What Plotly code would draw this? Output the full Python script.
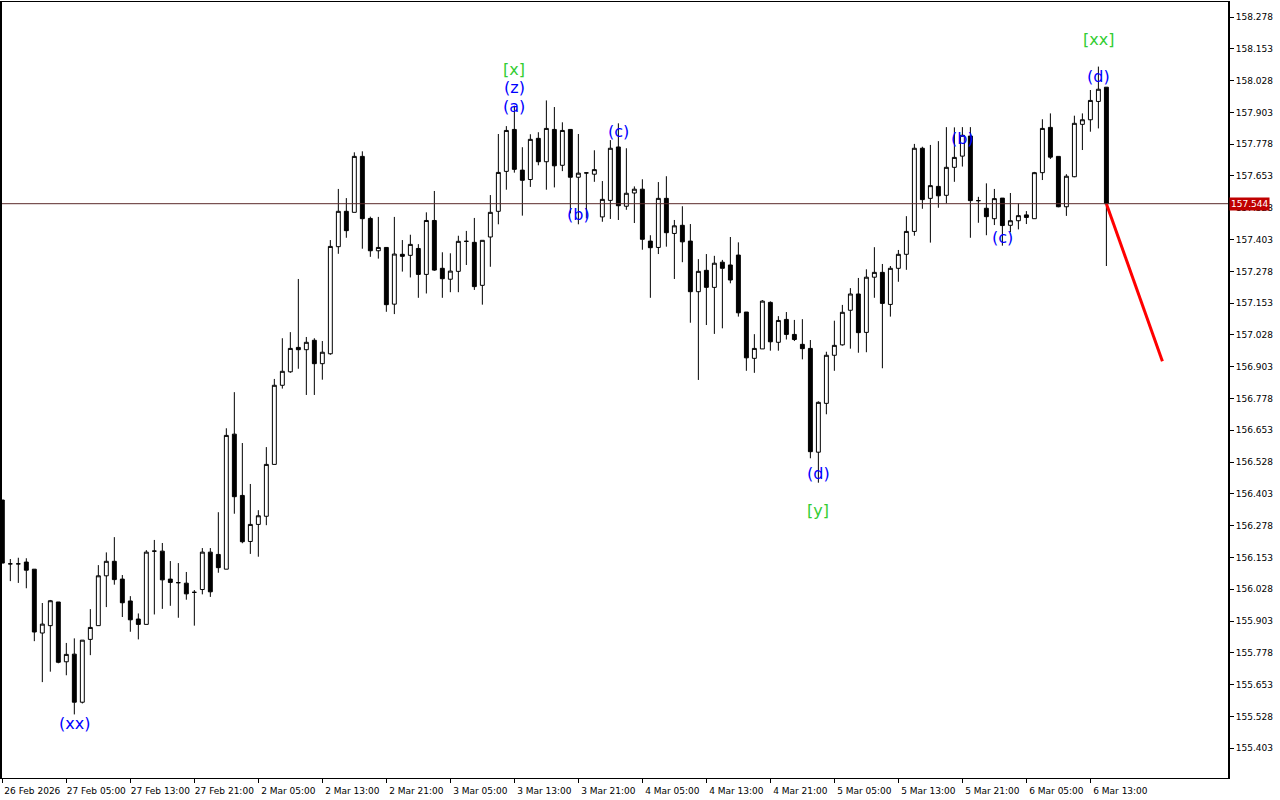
import plotly.graph_objects as go

# hourly bars, index 0 = 26 Feb 2026 21:00
open_ = [156.379, 156.128, 156.128, 156.135, 156.107, 155.856, 155.885, 155.978, 155.743, 155.773,
         155.584, 155.831, 155.885, 156.081, 156.138, 156.068, 155.982, 155.911, 155.890, 156.178,
         156.178, 156.068, 156.054, 156.052, 156.016, 156.027, 156.174, 156.165, 156.107, 156.638,
         156.397, 156.216, 156.283, 156.315, 156.519, 156.830, 156.883, 156.979, 156.970, 157.007,
         156.915, 156.954, 157.375, 157.514, 157.510, 157.730, 157.486, 157.359, 157.372, 157.149,
         157.345, 157.341, 157.368, 157.266, 157.478, 157.290, 157.247, 157.278, 157.396, 157.392,
         157.223, 157.413, 157.514, 157.671, 157.836, 157.676, 157.639, 157.801, 157.709, 157.836,
         157.695, 157.836, 157.648, 157.665, 157.660, 157.492, 157.557, 157.767, 157.534, 157.586,
         157.601, 157.397, 157.372, 157.565, 157.427, 157.459, 157.397, 157.198, 157.282, 157.215,
         157.314, 157.303, 157.342, 157.118, 156.936, 156.973, 157.156, 156.999, 157.089, 157.030,
         156.991, 156.975, 156.567, 156.759, 156.948, 156.989, 157.125, 157.189, 157.038, 157.255,
         157.274, 157.148, 157.290, 157.345, 157.435, 157.762, 157.565, 157.612, 157.577, 157.687,
         157.731, 157.810, 157.556, 157.526, 157.485, 157.566, 157.459, 157.477, 157.500, 157.485,
         157.666, 157.844, 157.730, 157.532, 157.650, 157.856, 157.874, 157.946, 158.002]
high = [156.379, 156.147, 156.152, 156.150, 156.107, 155.974, 155.986, 155.978, 155.817, 155.835,
        155.828, 155.950, 156.123, 156.173, 156.233, 156.084, 156.001, 155.933, 156.182, 156.222,
        156.210, 156.139, 156.131, 156.096, 156.025, 156.190, 156.190, 156.331, 156.661, 156.803,
        156.603, 156.442, 156.339, 156.587, 156.855, 157.015, 157.039, 157.248, 157.020, 157.015,
        157.004, 157.401, 157.602, 157.566, 157.746, 157.750, 157.493, 157.492, 157.372, 157.492,
        157.401, 157.422, 157.385, 157.510, 157.594, 157.353, 157.349, 157.418, 157.437, 157.488,
        157.400, 157.578, 157.818, 157.849, 157.929, 157.766, 157.817, 157.825, 157.950, 157.924,
        157.864, 157.836, 157.818, 157.666, 157.754, 157.633, 157.794, 157.860, 157.762, 157.612,
        157.640, 157.420, 157.629, 157.652, 157.480, 157.534, 157.464, 157.326, 157.346, 157.339,
        157.323, 157.413, 157.392, 157.118, 157.031, 157.165, 157.160, 157.102, 157.118, 157.087,
        157.090, 157.008, 156.767, 156.962, 157.084, 157.146, 157.212, 157.252, 157.286, 157.373,
        157.307, 157.299, 157.362, 157.495, 157.779, 157.768, 157.775, 157.790, 157.845, 157.844,
        157.845, 157.845, 157.571, 157.624, 157.602, 157.566, 157.586, 157.545, 157.515, 157.669,
        157.876, 157.899, 157.730, 157.660, 157.890, 157.899, 157.991, 158.083, 158.002]
low = [156.131, 156.060, 156.053, 156.032, 155.824, 155.663, 155.704, 155.737, 155.690, 155.536,
       155.579, 155.769, 155.885, 155.958, 156.046, 155.919, 155.861, 155.831, 155.890, 155.929,
       155.951, 155.963, 155.916, 155.987, 155.885, 156.008, 155.998, 156.093, 156.107, 156.325,
       156.209, 156.167, 156.156, 156.280, 156.519, 156.817, 156.879, 156.895, 156.792, 156.792,
       156.852, 156.950, 157.347, 157.410, 157.510, 157.367, 157.335, 157.328, 157.119, 157.110,
       157.277, 157.254, 157.174, 157.191, 157.280, 157.174, 157.196, 157.196, 157.303, 157.205,
       157.147, 157.296, 157.463, 157.599, 157.666, 157.497, 157.610, 157.695, 157.599, 157.608,
       157.672, 157.506, 157.463, 157.486, 157.630, 157.473, 157.484, 157.480, 157.520, 157.468,
       157.363, 157.174, 157.346, 157.375, 157.248, 157.314, 157.076, 156.851, 157.067, 157.032,
       157.054, 157.231, 157.100, 156.887, 156.879, 156.973, 156.966, 156.966, 157.010, 157.004,
       156.932, 156.543, 156.447, 156.716, 156.887, 156.986, 156.974, 156.958, 156.960, 157.174,
       156.897, 157.100, 157.237, 157.284, 157.418, 157.524, 157.391, 157.528, 157.545, 157.630,
       157.690, 157.410, 157.469, 157.420, 157.460, 157.379, 157.432, 157.443, 157.464, 157.485,
       157.637, 157.720, 157.530, 157.496, 157.648, 157.755, 157.827, 157.840, 157.299]
close = [156.131, 156.128, 156.128, 156.103, 155.860, 155.891, 155.983, 155.741, 155.772, 155.584,
         155.828, 155.878, 156.081, 156.138, 156.066, 155.975, 155.908, 155.890, 156.174, 156.178,
         156.065, 156.055, 156.054, 156.010, 156.016, 156.174, 156.018, 156.113, 156.633, 156.392,
         156.215, 156.283, 156.317, 156.519, 156.830, 156.885, 156.975, 156.970, 156.999, 156.915,
         156.960, 157.376, 157.514, 157.438, 157.730, 157.485, 157.359, 157.372, 157.147, 157.346,
         157.337, 157.384, 157.266, 157.478, 157.283, 157.249, 157.279, 157.396, 157.396, 157.218,
         157.400, 157.510, 157.667, 157.832, 157.679, 157.636, 157.797, 157.709, 157.840, 157.693,
         157.832, 157.648, 157.664, 157.665, 157.678, 157.561, 157.762, 157.536, 157.585, 157.601,
         157.404, 157.371, 157.565, 157.430, 157.457, 157.394, 157.198, 157.278, 157.215, 157.310,
         157.290, 157.244, 157.115, 156.938, 156.975, 157.161, 157.001, 157.085, 157.030, 157.010,
         156.974, 156.569, 156.763, 156.948, 156.987, 157.117, 157.189, 157.037, 157.255, 157.274,
         157.152, 157.290, 157.345, 157.435, 157.762, 157.560, 157.615, 157.575, 157.687, 157.726,
         157.813, 157.556, 157.556, 157.493, 157.564, 157.458, 157.477, 157.497, 157.490, 157.666,
         157.840, 157.727, 157.532, 157.652, 157.860, 157.874, 157.950, 157.994, 157.544]
bars = list(range(len(close)))

time_labels = ["26 Feb 2026", "27 Feb 05:00", "27 Feb 13:00", "27 Feb 21:00", "2 Mar 05:00",
               "2 Mar 13:00", "2 Mar 21:00", "3 Mar 05:00", "3 Mar 13:00", "3 Mar 21:00",
               "4 Mar 05:00", "4 Mar 13:00", "4 Mar 21:00", "5 Mar 05:00", "5 Mar 13:00",
               "5 Mar 21:00", "6 Mar 05:00", "6 Mar 13:00"]
time_ticks = [0, 8, 16, 24, 32, 40, 48, 56, 64, 72, 80, 88, 96, 104, 112, 120, 128, 136]

price_ticks = [155.403, 155.528, 155.653, 155.778, 155.903, 156.028, 156.153, 156.278,
               156.403, 156.528, 156.653, 156.778, 156.903, 157.028, 157.153, 157.278,
               157.403, 157.528, 157.653, 157.778, 157.903, 158.028, 158.153, 158.278]
last_price = 157.544

# projected move
proj_x = [138, 145]
proj_y = [157.544, 156.925]

# wave labels: (bar, price, text, colour)
wave_labels = [
    (9, 155.502, "(xx)", "blue"),
    (64, 158.070, "[x]", "limegreen"),
    (64, 157.999, "(z)", "blue"),
    (64, 157.928, "(a)", "blue"),
    (72, 157.500, "(b)", "blue"),
    (77, 157.826, "(c)", "blue"),
    (102, 156.485, "(d)", "blue"),
    (102, 156.336, "[y]", "limegreen"),
    (120, 157.802, "(b)", "blue"),
    (125, 157.413, "(c)", "blue"),
    (137, 158.046, "(d)", "blue"),
    (137, 158.188, "[xx]", "limegreen"),
]

fig = go.Figure()
fig.add_trace(go.Candlestick(
    x=bars, open=open_, high=high, low=low, close=close,
    increasing=dict(line=dict(color="black", width=1), fillcolor="white"),
    decreasing=dict(line=dict(color="black", width=1), fillcolor="black"),
    whiskerwidth=0, showlegend=False, hoverinfo="skip",
))
fig.add_trace(go.Scatter(x=proj_x, y=proj_y, mode="lines",
                         line=dict(color="red", width=3), showlegend=False, hoverinfo="skip"))

fig.add_hline(y=last_price, line=dict(color="#5a2a2a", width=1))

for bx, py, txt, col in wave_labels:
    fig.add_annotation(x=bx, y=py, text=txt, showarrow=False,
                       font=dict(family="DejaVu Sans", size=16, color=col))

fig.add_annotation(x=1, xref="paper", y=last_price, text=f"{last_price:.3f}", showarrow=False,
                   xanchor="left", xshift=1, bgcolor="#c00000", borderpad=1,
                   font=dict(family="DejaVu Sans", size=9, color="white"))

fig.update_layout(
    width=1280, height=800,
    margin=dict(l=2, r=52, t=2, b=22, autoexpand=False),
    paper_bgcolor="white", plot_bgcolor="white",
    boxgap=0.3,
    xaxis=dict(range=[-0.04, 153.2], tickmode="array", tickvals=time_ticks, ticktext=time_labels,
               tickangle=0, automargin=False,
               ticks="outside", ticklen=4, tickcolor="black", ticklabelshift=30,
               showgrid=False, zeroline=False, showline=True, linecolor="black", linewidth=1,
               mirror=True, rangeslider=dict(visible=False),
               tickfont=dict(family="DejaVu Sans", size=9, color="black")),
    yaxis=dict(range=[155.286, 158.337], side="right", tickmode="array", tickvals=price_ticks,
               ticktext=[f"{p:.3f}" for p in price_ticks], automargin=False,
               ticks="outside", ticklen=4, tickcolor="black",
               showgrid=False, zeroline=False, showline=True, linecolor="black", linewidth=2,
               mirror=True, tickfont=dict(family="DejaVu Sans", size=9, color="black")),
)

fig.write_html("out.html", config={"displayModeBar": False},
               post_script="document.body.style.margin='0';")
